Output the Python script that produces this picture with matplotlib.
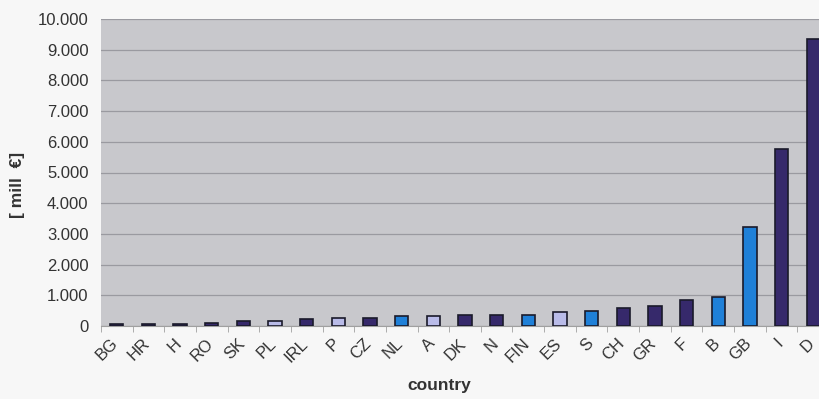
import matplotlib
matplotlib.use("Agg")
import matplotlib.pyplot as plt
from matplotlib.ticker import FuncFormatter, FixedLocator
import numpy as np

plt.rcParams['font.family'] = ['Liberation Sans', 'DejaVu Sans']

# countries sorted by value, in mill €
countries = ["BG", "HR", "H", "RO", "SK", "PL", "IRL", "P", "CZ", "NL", "A", "DK",
             "N", "FIN", "ES", "S", "CH", "GR", "F", "B", "GB", "I", "D"]
values = [50, 65, 65, 85, 160, 160, 240, 250, 250, 330, 330, 360,
          360, 360, 450, 500, 580, 660, 850, 955, 3220, 5750, 9350]
groups = ["d", "d", "d", "d", "d", "l", "d", "l", "d", "b", "l", "d",
          "d", "b", "l", "b", "d", "d", "d", "b", "b", "d", "d"]

palette = {"d": "#36296b", "b": "#1f80d8", "l": "#b9bbe8"}

fig = plt.figure(figsize=(8.19, 3.99), dpi=100)
fig.patch.set_facecolor("#f7f7f7")
W, H = 819, 399
ax = fig.add_axes([101 / W, (H - 326) / H, (829 - 101) / W, (326 - 19) / H])
ax.set_facecolor("#c8c8cc")

x = np.arange(len(countries))
ax.bar(x, values, width=0.42, color=[palette[g] for g in groups],
       edgecolor="#1a1a2a", linewidth=1.2, zorder=3)

ax.set_xlim(-0.5, len(countries) - 0.5)
ax.set_ylim(0, 10000)
ax.set_yticks(np.arange(0, 10001, 1000))
ax.yaxis.set_major_formatter(FuncFormatter(lambda v, p: f"{int(v):,}".replace(",", ".")))
ax.grid(axis="y", color="#9a9aa0", linewidth=0.9, zorder=1)

# labels sit a little left of the bar centres
ax.set_xticks(x - 0.2)
ax.set_xticklabels(countries, rotation=45, ha="right", va="top",
                   rotation_mode="anchor", fontsize=12, color="#333333")
ax.xaxis.set_minor_locator(FixedLocator(np.arange(-0.5, len(countries), 1)))
ax.tick_params(axis="x", which="major", length=0, pad=7)
ax.tick_params(axis="x", which="minor", length=4, color="#a0a0a0")
ax.tick_params(axis="y", length=0, labelsize=12, colors="#333333", pad=9)

for s in ["top", "right", "left"]:
    ax.spines[s].set_visible(False)
ax.spines["bottom"].set_color("#a0a0a0")

ax.set_ylabel("[ mill  €]", fontsize=12.5, fontweight="bold", color="#333333")
ax.yaxis.set_label_coords(-(101 - 25) / (829 - 101), (326 - 185) / (326 - 19))
ax.set_xlabel("country", fontsize=12.5, fontweight="bold", color="#333333")
ax.xaxis.set_label_coords((439 - 101) / (829 - 101), -(378 - 326) / (326 - 19))

fig.savefig("out.png", dpi=100, facecolor=fig.get_facecolor())
